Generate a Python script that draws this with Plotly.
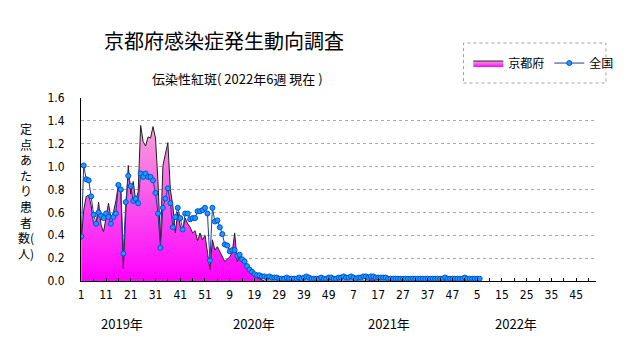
import plotly.graph_objects as go

# ---------------- data ----------------
years = [2019, 2020, 2021, 2022]
weeks_per_year = [52, 52, 52, 6]

kyoto = [
    0.36, 0.62, 0.74, 0.75, 0.66, 0.50, 0.49, 0.69, 0.49, 0.43,
    0.55, 0.68, 0.55, 0.60, 0.70, 0.84, 0.78, 0.11, 0.60, 1.01,
    0.76, 0.87, 0.70, 0.78, 1.36, 1.22, 1.18, 1.26, 1.25, 1.35,
    1.25, 0.87, 0.35, 1.01, 1.11, 1.21, 0.80, 0.66, 0.42, 0.60,
    0.48, 0.44, 0.55, 0.50, 0.47, 0.42, 0.44, 0.35, 0.42, 0.36,
    0.40, 0.27,
    0.10, 0.36, 0.27, 0.30, 0.26, 0.22, 0.17, 0.19, 0.21, 0.25,
    0.42, 0.17, 0.21, 0.19, 0.16, 0.12, 0.08, 0.05, 0.04, 0.03,
    0.02, 0.01, 0.00, 0.00, 0.00, 0.00, 0.00, 0.00, 0.00, 0.00,
    0.00, 0.00, 0.00, 0.00, 0.00, 0.00, 0.00, 0.00, 0.00, 0.00,
    0.00, 0.00, 0.00, 0.00, 0.00, 0.00, 0.00, 0.00, 0.00, 0.00,
    0.00, 0.00,
    0.00, 0.00, 0.00, 0.00, 0.00, 0.00, 0.00, 0.00, 0.00, 0.00,
    0.00, 0.00, 0.00, 0.01, 0.01, 0.00, 0.00, 0.00, 0.00, 0.00,
    0.00, 0.00, 0.00, 0.00, 0.00, 0.00, 0.00, 0.00, 0.00, 0.00,
    0.00, 0.00, 0.00, 0.00, 0.00, 0.00, 0.00, 0.00, 0.00, 0.00,
    0.00, 0.00, 0.00, 0.00, 0.00, 0.00, 0.00, 0.00, 0.00, 0.00,
    0.00, 0.00,
    0.01, 0.00, 0.00, 0.00, 0.00, 0.00,
]

national = [
    0.39, 1.01, 0.89, 0.88, 0.74, 0.58, 0.50, 0.60, 0.57, 0.55,
    0.59, 0.56, 0.50, 0.56, 0.59, 0.84, 0.80, 0.24, 0.69, 0.92,
    0.83, 0.70, 0.72, 0.68, 0.94, 0.91, 0.94, 0.91, 0.91, 0.88,
    0.77, 0.59, 0.29, 0.64, 0.72, 0.81, 0.68, 0.47, 0.56, 0.64,
    0.55, 0.45, 0.59, 0.59, 0.54, 0.55, 0.55, 0.61, 0.61, 0.62,
    0.64, 0.59,
    0.18, 0.64, 0.52, 0.53, 0.47, 0.41, 0.32, 0.31, 0.26, 0.27,
    0.27, 0.22, 0.23, 0.19, 0.17, 0.13, 0.10, 0.08, 0.06, 0.05,
    0.05, 0.04, 0.04, 0.03, 0.04, 0.03, 0.03, 0.03, 0.02, 0.02,
    0.02, 0.03, 0.02, 0.02, 0.02, 0.02, 0.03, 0.02, 0.03, 0.04,
    0.03, 0.02, 0.02, 0.02, 0.02, 0.03, 0.02, 0.02, 0.03, 0.03,
    0.02, 0.02,
    0.03, 0.03, 0.04, 0.03, 0.03, 0.04, 0.03, 0.02, 0.03, 0.03,
    0.04, 0.04, 0.03, 0.04, 0.04, 0.03, 0.03, 0.03, 0.03, 0.03,
    0.02, 0.02, 0.02, 0.02, 0.02, 0.02, 0.02, 0.02, 0.02, 0.02,
    0.02, 0.02, 0.02, 0.02, 0.02, 0.02, 0.02, 0.02, 0.02, 0.02,
    0.02, 0.02, 0.02, 0.03, 0.02, 0.02, 0.02, 0.02, 0.02, 0.02,
    0.02, 0.03,
    0.02, 0.02, 0.02, 0.02, 0.02, 0.02,
]

tick_labels = ["1", "11", "21", "31", "41", "51", "9", "19", "29", "39",
               "49", "7", "17", "27", "37", "47", "5", "15", "25", "35", "45"]
year_labels = ["2019年", "2020年", "2021年", "2022年"]
year_label_pos = [16.5, 70.0, 124.5, 175.5]

# sequential week index
x = list(range(sum(weeks_per_year)))

fig = go.Figure()

fig.add_trace(go.Scatter(
    x=x, y=kyoto, name="京都府", mode="lines",
    line=dict(color="#202020", width=1),
    fill="tozeroy",
    fillgradient=dict(type="vertical",
                      colorscale=[[0, "#ff00ff"], [1, "#f5a8d8"]],
                      start=0, stop=1.4),
))
fig.add_trace(go.Scatter(
    x=x, y=national, name="全国", mode="lines+markers",
    line=dict(color="#1e3c9a", width=1),
    marker=dict(size=5, color="#1a9bff", line=dict(color="#0050d0", width=1)),
))

fig.update_layout(
    width=631, height=347,
    margin=dict(l=81, r=33, t=98, b=66),
    paper_bgcolor="white", plot_bgcolor="white",
    font=dict(family="Noto Sans CJK JP", color="black"),
    showlegend=True,
    legend=dict(orientation="h", x=0.752, y=1.191, xanchor="left", yanchor="middle",
                bgcolor="rgba(0,0,0,0)", borderwidth=0,
                font=dict(size=12, family="Noto Sans CJK JP"),
                itemwidth=30, tracegroupgap=0),
)

tickvals_all = list(range(0, 210, 5))
ticktext_all = []
for v in tickvals_all:
    if v % 10 == 0 and v // 10 < len(tick_labels):
        ticktext_all.append(tick_labels[v // 10])
    else:
        ticktext_all.append("")

tick_font = dict(family="Liberation Sans Narrow, DejaVu Sans Condensed, Arial", size=12)

fig.update_xaxes(
    range=[-0.1, 208], tickmode="array", tickvals=tickvals_all, ticktext=ticktext_all,
    ticks="inside", ticklen=3, tickcolor="black", tickwidth=1,
    showline=True, linecolor="black", linewidth=1, showgrid=False, zeroline=False,
    tickfont=tick_font, ticklabelstandoff=3,
)
fig.update_yaxes(
    range=[0, 1.6], dtick=0.2, tickformat=".1f",
    showline=True, linecolor="black", linewidth=1,
    showgrid=True, gridcolor="#a8a8a8", griddash="3px,3px", gridwidth=1,
    zeroline=False, ticks="",
    tickfont=tick_font, ticklabelstandoff=13,
)

def px(xp):
    return (xp - 81) / 517

def py(yp):
    return (281 - yp) / 183

# titles
fig.add_annotation(text="京都府感染症発生動向調査", x=px(225), y=py(40), xref="paper", yref="paper",
                   showarrow=False, font=dict(size=20, family="Noto Sans CJK JP"),
                   xanchor="center", yanchor="middle")
fig.add_annotation(text="伝染性紅斑( 2022年6週 現在 )", x=px(238), y=py(78), xref="paper", yref="paper",
                   showarrow=False, font=dict(size=13, family="Noto Sans CJK JP"),
                   xanchor="center", yanchor="middle")

# y axis title (stacked vertical)
stacked = "<br>".join(["定", "点", "あ", "た", "り", "患", "者", "数(", "人)"])
fig.add_annotation(text=stacked, x=px(26), y=py(191), xref="paper", yref="paper",
                   showarrow=False, font=dict(size=12, family="Noto Sans CJK JP"),
                   xanchor="center", yanchor="middle", align="center")

# year labels
for lab, pos in zip(year_labels, year_label_pos):
    fig.add_annotation(text=lab, x=pos, y=py(323), xref="x", yref="paper",
                       showarrow=False, font=dict(size=13, family="Noto Sans CJK JP"),
                       xanchor="center", yanchor="middle")

# legend border
fig.add_shape(type="rect", xref="paper", yref="paper",
              x0=px(465), x1=px(608), y0=py(83), y1=py(43),
              line=dict(color="#a0a0a0", width=1, dash="dot"), fillcolor="rgba(0,0,0,0)")

fig.write_html("out.html")
